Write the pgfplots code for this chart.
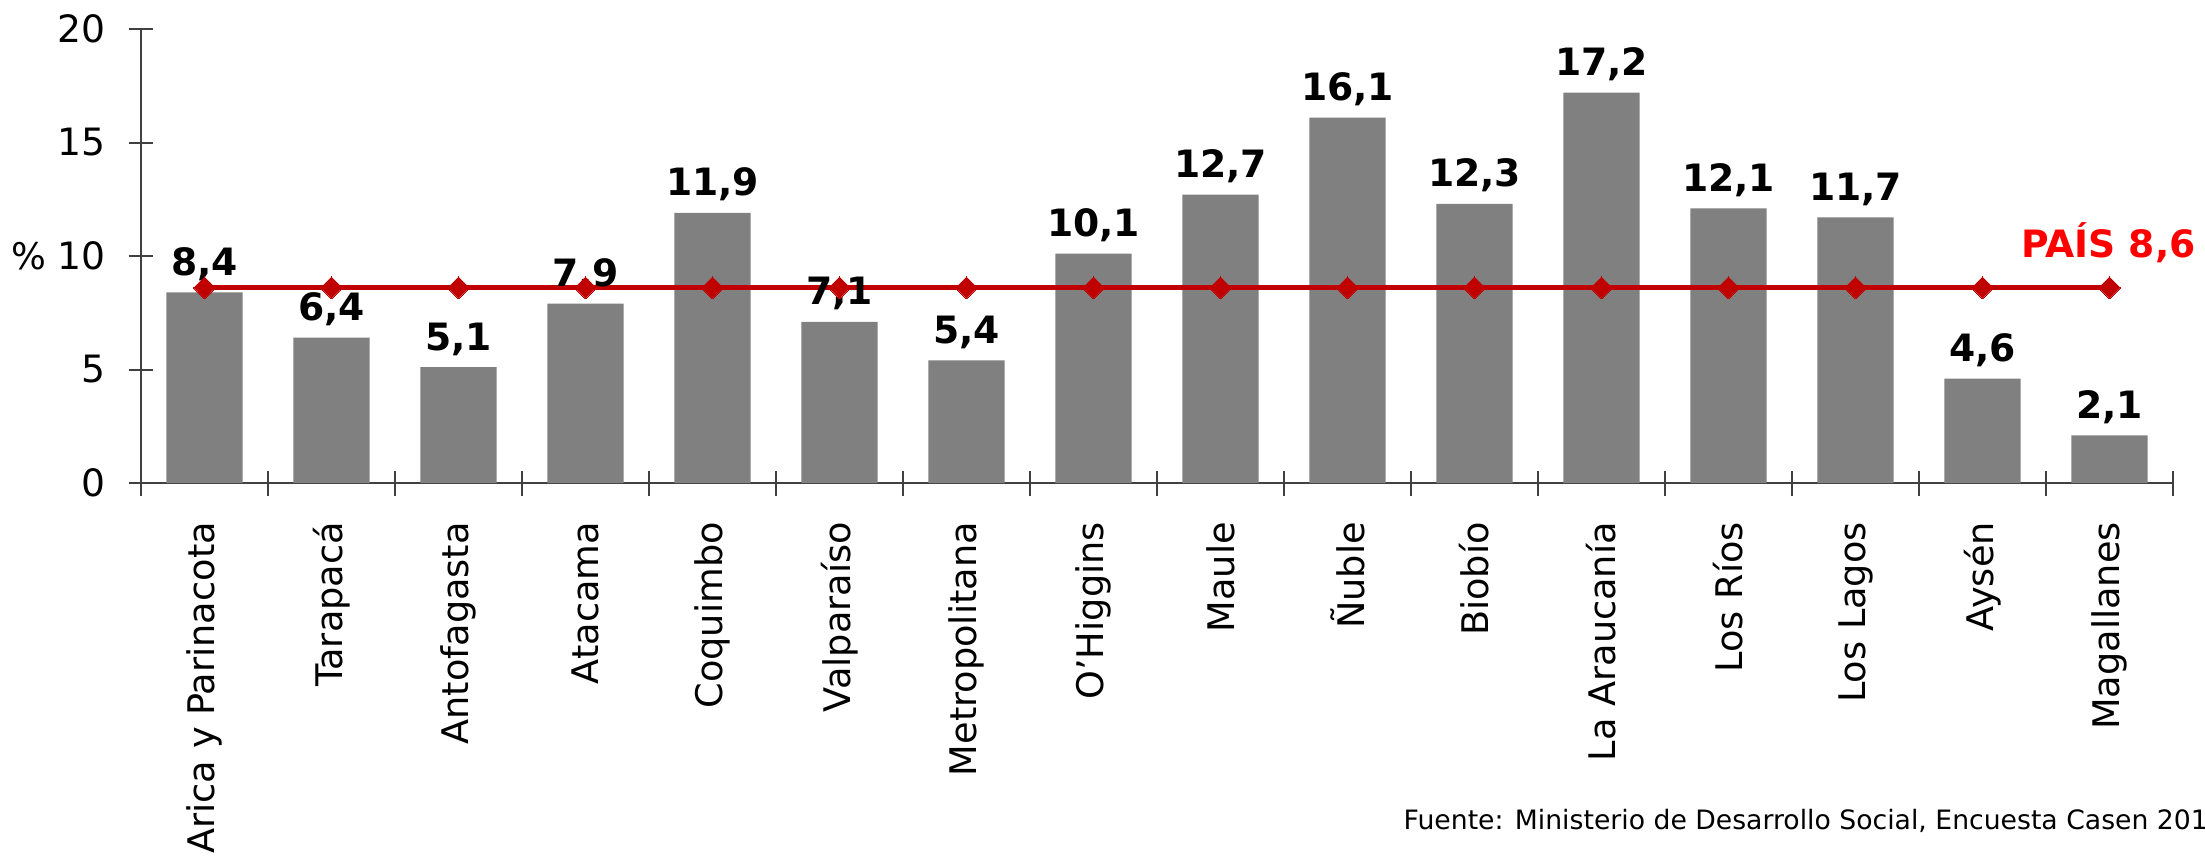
\documentclass[border=0pt]{standalone}
\usepackage{fontspec}
\setmainfont{DejaVu Sans}
\usepackage{pgfplots}
\pgfplotsset{compat=1.18}
\definecolor{barg}{RGB}{128,128,128}
\definecolor{linered}{RGB}{192,0,0}
\definecolor{txtred}{RGB}{255,0,0}
\definecolor{axg}{RGB}{64,64,64}
\begin{document}
\begin{tikzpicture}[font=\fontsize{11}{13}\selectfont]
\useasboundingbox (-42.3pt,-113.1pt) rectangle (619.2pt,144.9pt);
\begin{axis}[
  at={(0pt,0pt)}, anchor=south west,
  scale only axis, width=609.6pt, height=136.2pt,
  xmin=-0.5, xmax=15.5, ymin=0, ymax=20,
  axis lines*=left,
  axis line style={axg, line width=0.6pt},
  ytick={0,5,...,20},
  xtick={0,...,15},
  xticklabels={Arica y Parinacota, Tarapacá, Antofagasta, Atacama, Coquimbo, Valparaíso, Metropolitana, O'Higgins, Maule, Ñuble, Biobío, La Araucanía, Los Ríos, Los Lagos, Aysén, Magallanes},
  minor xtick={-0.5,0.5,...,15.5},
  major x tick style={draw=none},
  tick align=center,
  major tick length=7.5pt, minor tick length=7.5pt,
  every tick/.style={axg, line width=0.6pt},
  minor tick style={axg, line width=0.6pt},
  xticklabel style={rotate=90, anchor=east, inner sep=0pt, font=\fontsize{11}{13}\selectfont},
  xticklabel shift=7.8pt,
  yticklabel style={anchor=east, inner sep=0pt, font=\fontsize{11.3}{13}\selectfont},
  yticklabel shift=6.8pt,
  /pgf/number format/assume math mode=true,
  clip=false,
]
\addplot[ybar, bar width=0.6, bar shift=0pt, fill=barg, draw=none,
  nodes near coords,
  every node near coord/.append style={font=\fontsize{11.3}{13}\selectfont\bfseries, text=black,
    /pgf/number format/.cd, fixed, fixed zerofill, precision=1, use comma, assume math mode=true}]
  coordinates {(0,8.4) (1,6.4) (2,5.1) (3,7.9) (4,11.9) (5,7.1) (6,5.4) (7,10.1) (8,12.7) (9,16.1) (10,12.3) (11,17.2) (12,12.1) (13,11.7) (14,4.6) (15,2.1)};
\addplot[linered, line width=1.4pt, mark=square*, mark size=2.3pt,
  mark options={rotate=45, fill=linered, draw=linered, line width=0pt}]
  coordinates {(0,8.6) (1,8.6) (2,8.6) (3,8.6) (4,8.6) (5,8.6) (6,8.6) (7,8.6) (8,8.6) (9,8.6) (10,8.6) (11,8.6) (12,8.6) (13,8.6) (14,8.6) (15,8.6)};
\node[anchor=west, text=txtred, font=\fontsize{11.3}{13}\selectfont\bfseries, inner sep=0pt] at (axis cs:14.3,10.6) {PAÍS 8,6};
\end{axis}
\node[anchor=center] at (-33.6pt,68.1pt) {\%};
\node[anchor=west, inner sep=0pt, font=\fontsize{8}{9.6}\selectfont] at (378.6pt,-101.4pt) {Fuente: Ministerio de Desarrollo Social, Encuesta Casen 2017};
\end{tikzpicture}
\end{document}
